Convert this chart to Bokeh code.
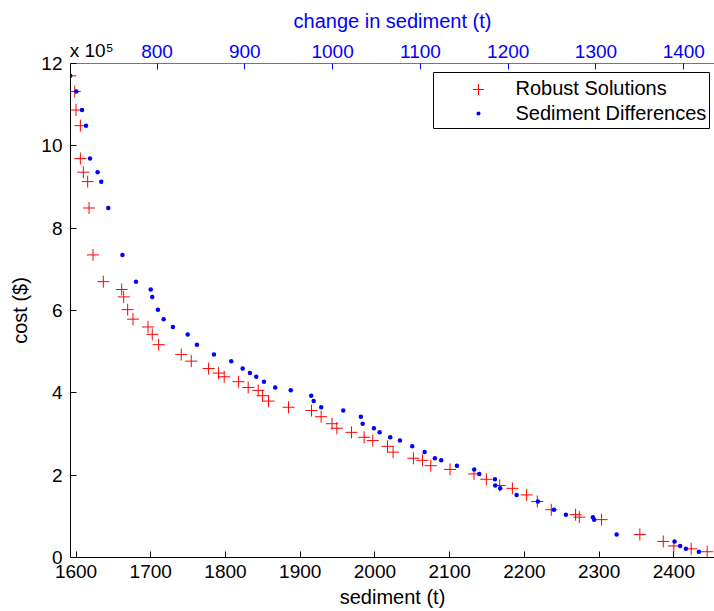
from bokeh.plotting import figure
from bokeh.models import (Range1d, LinearAxis, FixedTicker, Legend, LegendItem,
                          BoxAnnotation, ColumnDataSource)
from bokeh.embed import file_html
from bokeh.resources import INLINE

FONT = "Liberation Sans"

# ---- data (cost in units of 1e5 $) ----
cost = [11.70, 11.32, 10.87, 10.49, 9.69, 9.36, 9.13, 8.49, 7.35, 6.70,
        6.51, 6.33, 6.02, 5.79, 5.60, 5.42, 5.17, 4.93, 4.77, 4.59,
        4.48, 4.39, 4.27, 4.13, 4.06, 3.93, 3.80, 3.65, 3.57, 3.42,
        3.25, 3.14, 3.04, 2.92, 2.84, 2.70, 2.56, 2.41, 2.36, 2.23,
        2.14, 2.03, 1.90, 1.75, 1.68, 1.52, 1.36, 1.16, 1.04, 0.98,
        0.92, 0.56, 0.39, 0.28, 0.21, 0.14]

sediment = [1592.4, 1598.3, 1600.0, 1605.8, 1605.8, 1609.8, 1615.6, 1617.4, 1622.7, 1636.5,
            1661.1, 1663.8, 1669.1, 1676.2, 1696.3, 1702.0, 1710.6, 1740.8, 1754.2, 1777.4,
            1790.8, 1798.3, 1817.5, 1830.4, 1843.8, 1849.6, 1857.6, 1884.4, 1915.1, 1928.0,
            1942.5, 1949.0, 1968.6, 1985.5, 1997.1, 2016.8, 2024.3, 2051.5, 2063.6, 2074.7,
            2100.5, 2132.6, 2149.1, 2166.9, 2183.9, 2203.0, 2217.3, 2236.0, 2268.5, 2273.5,
            2303.3, 2354.5, 2385.8, 2400.0, 2423.2, 2444.6]

change = [701.1, 708.0, 714.5, 719.1, 723.6, 732.3, 736.4, 744.4, 760.6, 776.0,
          792.8, 794.5, 801.0, 807.5, 818.0, 834.9, 845.4, 864.8, 884.5, 897.5,
          905.8, 913.0, 921.8, 934.6, 952.3, 975.6, 978.4, 987.0, 1012.1, 1032.2,
          1034.2, 1047.0, 1053.5, 1065.6, 1076.7, 1090.7, 1104.8, 1116.5, 1123.7, 1141.6,
          1161.3, 1167.0, 1184.9, 1185.2, 1190.9, 1209.6, 1233.8, 1252.1, 1265.7, 1296.5,
          1297.9, 1323.5, 1389.5, 1395.9, 1402.4, 1417.2]

bottom_ticks = [1600, 1700, 1800, 1900, 2000, 2100, 2200, 2300, 2400]
top_ticks = [800, 900, 1000, 1100, 1200, 1300, 1400]
y_ticks = [0, 2, 4, 6, 8, 10, 12]

src = ColumnDataSource(dict(cost=cost, sediment=sediment, change=change))

p = figure(width=714, height=611, output_backend="svg", toolbar_location=None,
           title="change in sediment (t)",
           x_range=Range1d(1592.6, 2454.4), y_range=Range1d(0, 12),
           min_border_left=70, min_border_right=0, min_border_top=63,
           min_border_bottom=54)
p.extra_x_ranges = {"top": Range1d(701.4, 1435.0)}
p.grid.visible = False
p.outline_line_color = None
p.background_fill_color = "white"
p.border_fill_color = "white"

p.title.align = "center"
p.title.text_color = "blue"
p.title.text_font = FONT
p.title.text_font_size = "20px"
p.title.text_font_style = "normal"
p.title.standoff = 10

def style(ax, color, ticks, label, tick_standoff, label_standoff):
    ax.ticker = FixedTicker(ticks=ticks)
    ax.axis_label = label
    ax.axis_line_color = color
    ax.major_tick_line_color = color
    ax.major_tick_in = 6
    ax.major_tick_out = 0
    ax.minor_tick_line_color = None
    ax.major_label_text_color = color
    ax.major_label_text_font = FONT
    ax.major_label_text_font_size = "19px"
    ax.major_label_standoff = tick_standoff
    ax.axis_label_text_color = color
    ax.axis_label_text_font = FONT
    ax.axis_label_text_font_size = "20px"
    ax.axis_label_text_font_style = "normal"
    ax.axis_label_standoff = label_standoff

style(p.xaxis[0], "black", bottom_ticks, "sediment (t)", 7, 5)
style(p.yaxis[0], "black", y_ticks, "cost ($)", 8, 7)

# top axis: blue ticks; its axis label (anchored at the axis start) carries the y exponent
top_axis = LinearAxis(x_range_name="top")
style(top_axis, "blue", top_ticks, "\u00a0" * 8 + "x 10\u2075", 6, -19)
top_axis.axis_line_color = "#6464ff"
top_axis.axis_label_text_color = "black"
top_axis.axis_label_text_font_size = "19px"
top_axis.axis_label_align = "start"
p.add_layout(top_axis, "above")

r_red = p.scatter(x="sediment", y="cost", source=src, marker="cross", size=12,
                  line_color="red", line_width=1)
r_blue = p.scatter(x="change", y="cost", source=src, x_range_name="top",
                   marker="circle", size=4.5, fill_color="blue", line_color=None)

# legend box + items
p.add_layout(BoxAnnotation(left=363, right=639, top=485, bottom=429,
                           left_units="screen", right_units="screen",
                           top_units="screen", bottom_units="screen",
                           fill_color="white", fill_alpha=1.0,
                           line_color="black", line_width=1, line_alpha=1.0))

common = dict(padding=0, margin=0, glyph_width=76, label_standoff=0, spacing=0,
              border_line_color=None, background_fill_alpha=0,
              label_text_font=FONT, label_text_font_size="20px",
              label_text_color="black")
legA = Legend(items=[LegendItem(label="Robust Solutions", renderers=[r_red])],
              location=(369.5, 454.5), glyph_height=28, label_height=28, **common)
legB = Legend(items=[LegendItem(label="Sediment Differences", renderers=[r_blue])],
              location=(369.5, 432), glyph_height=10, label_height=24, **common)
p.add_layout(legA)
p.add_layout(legB)

open("out.html", "w").write(file_html(p, INLINE))
